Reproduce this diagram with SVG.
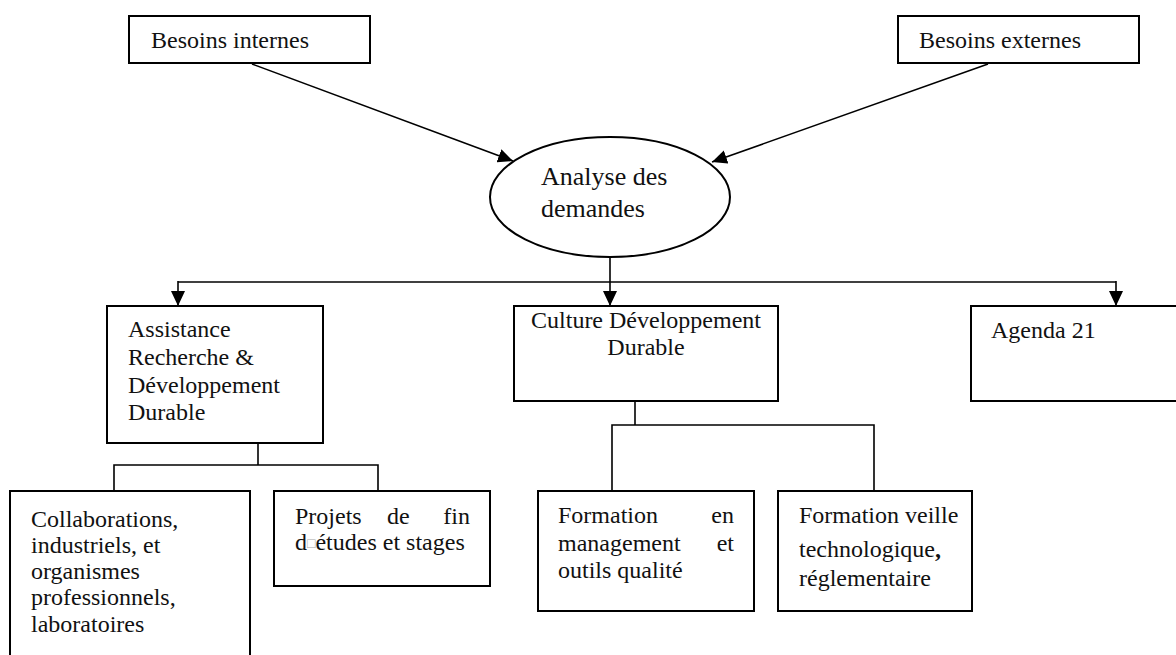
<svg xmlns="http://www.w3.org/2000/svg" width="1176" height="655" viewBox="0 0 1176 655">
<defs>
<marker id="arr" markerUnits="userSpaceOnUse" markerWidth="16" markerHeight="14" refX="15" refY="7" orient="auto">
<path d="M0,0 L15,7 L0,14 z" fill="#000"/>
</marker>
<style>
.box{fill:#fff;stroke:#000;stroke-width:2}
.ln{fill:none;stroke:#000;stroke-width:1.6}
text{font-family:"Liberation Serif","Times New Roman",serif;font-size:24px;fill:#111}
.big{font-size:26px}
</style>
</defs>
<rect width="1176" height="655" fill="#fff"/>
<g id="connectors">
<line class="ln" x1="252" y1="64" x2="513" y2="161" marker-end="url(#arr)"/>
<line class="ln" x1="988" y1="64" x2="712" y2="162" marker-end="url(#arr)"/>
<line class="ln" x1="610" y1="257" x2="610" y2="306" marker-end="url(#arr)"/>
<line class="ln" x1="178" y1="282" x2="1116" y2="282"/>
<line class="ln" x1="178" y1="281" x2="178" y2="306" marker-end="url(#arr)"/>
<line class="ln" x1="1116" y1="281" x2="1116" y2="306" marker-end="url(#arr)"/>
<polyline class="ln" points="258,443 258,465"/>
<polyline class="ln" points="114,491 114,465 378,465 378,491"/>
<polyline class="ln" points="635,401 635,425"/>
<polyline class="ln" points="612,491 612,425 874,425 874,491"/>
</g>
<g id="besoins-internes">
<rect class="box" x="129" y="16" width="241" height="47"/>
<text x="151" y="48">Besoins internes</text>
</g>
<g id="besoins-externes">
<rect class="box" x="898" y="16" width="241" height="47"/>
<text x="919" y="48">Besoins externes</text>
</g>
<g id="analyse">
<ellipse class="box" cx="610" cy="197" rx="120" ry="60"/>
<text class="big" x="541" y="185">Analyse des</text>
<text class="big" x="541" y="217">demandes</text>
</g>
<g id="assistance">
<rect class="box" x="107" y="306" width="216" height="137"/>
<text x="128" y="337">Assistance</text>
<text x="128" y="365">Recherche &amp;</text>
<text x="128" y="393">Développement</text>
<text x="128" y="420">Durable</text>
</g>
<g id="culture">
<rect class="box" x="514" y="306" width="264" height="95"/>
<text x="646" y="328" text-anchor="middle">Culture Développement</text>
<text x="646" y="355" text-anchor="middle">Durable</text>
</g>
<g id="agenda">
<rect class="box" x="971" y="306" width="300" height="95"/>
<text x="991" y="338">Agenda 21</text>
</g>
<g id="collaborations">
<rect class="box" x="10" y="491" width="240" height="200"/>
<text x="31" y="527">Collaborations,</text>
<text x="31" y="553">industriels, et</text>
<text x="31" y="579">organismes</text>
<text x="31" y="605">professionnels,</text>
<text x="31" y="632">laboratoires</text>
</g>
<g id="projets">
<rect class="box" x="274" y="491" width="216" height="95"/>
<text x="295" y="524">Projets</text>
<text x="387" y="524">de</text>
<text x="470" y="524" text-anchor="end">fin</text>
<text x="295" y="550">d<tspan fill="#aaa" font-size="14" dy="-2">□</tspan><tspan dy="2">études et stages</tspan></text>
</g>
<g id="formation-management">
<rect class="box" x="538" y="491" width="216" height="120"/>
<text x="558" y="523">Formation</text>
<text x="734" y="523" text-anchor="end">en</text>
<text x="558" y="551">management</text>
<text x="734" y="551" text-anchor="end">et</text>
<text x="558" y="578">outils qualité</text>
</g>
<g id="formation-veille">
<rect class="box" x="778" y="491" width="194" height="120"/>
<text x="799" y="523">Formation veille</text>
<text x="799" y="557">technologique<tspan font-weight="bold">,</tspan></text>
<text x="799" y="586">réglementaire</text>
</g>
</svg>
